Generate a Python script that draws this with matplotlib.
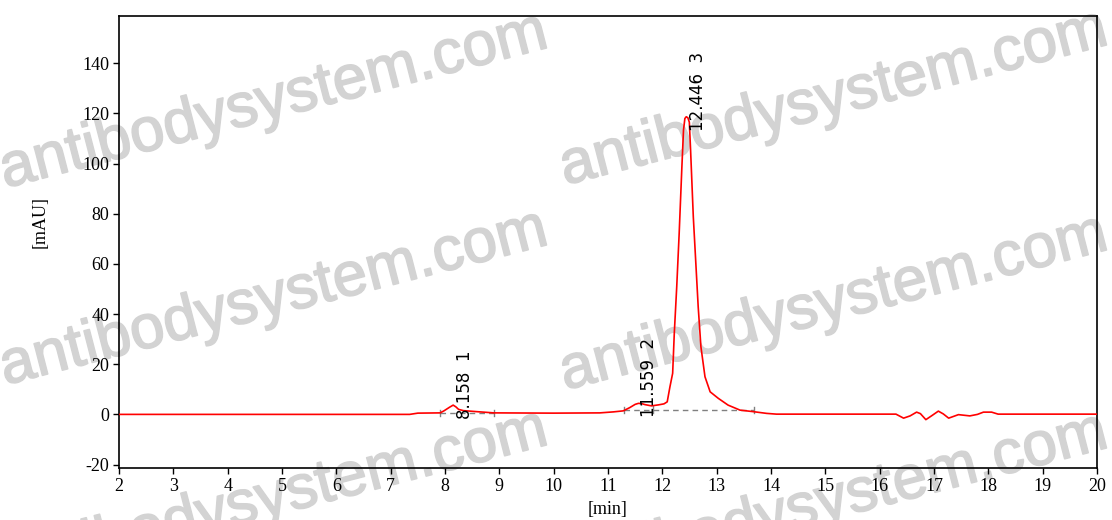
import numpy as np
import matplotlib
matplotlib.use('Agg')
import matplotlib.pyplot as plt
import matplotlib.patheffects as pe

plt.rcParams['axes.unicode_minus'] = False

# chromatogram trace (time in min, signal in mAU)
time_min = [2.00, 7.35, 7.50, 7.91, 7.98, 8.08, 8.15, 8.20, 8.25, 8.34, 8.58, 8.90,
            10.00, 10.85, 11.10, 11.28, 11.40, 11.50, 11.56, 11.62, 11.68, 11.80,
            11.93, 12.03, 12.09, 12.14, 12.19, 12.22, 12.265, 12.31, 12.36, 12.39,
            12.415, 12.44, 12.47, 12.497, 12.52, 12.57, 12.62, 12.66, 12.71, 12.785,
            12.88, 13.03, 13.21, 13.43, 13.67, 13.92, 14.10, 16.30, 16.44, 16.56,
            16.68, 16.75, 16.85, 16.96, 17.08, 17.17, 17.27, 17.45, 17.66, 17.80,
            17.91, 18.06, 18.18, 20.00]
signal_mau = [0.0, 0.0, 0.5, 0.6, 1.4, 2.8, 3.7, 3.0, 2.0, 1.5, 1.1, 0.6,
              0.5, 0.6, 1.0, 1.4, 2.7, 4.0, 4.4, 4.3, 3.9, 3.4,
              3.8, 4.2, 5.0, 11.0, 16.4, 32.3, 50.9, 72.2, 98.8, 113.5,
              118.0, 118.7, 118.3, 116.5, 105.4, 78.8, 58.9, 42.9, 27.0, 15.0,
              9.0, 6.4, 3.7, 1.7, 1.1, 0.4, 0.1, 0.1, -1.5, -0.6,
              0.9, 0.3, -2.1, -0.5, 1.3, 0.2, -1.5, -0.1, -0.6, 0.0,
              0.9, 0.9, 0.1, 0.1]

# integrated peaks
peak_rt = [8.158, 11.559, 12.446]
peak_height = [3.7, 4.4, 118.7]
peak_no = [1, 2, 3]

# integration baselines: (start, end, level)
base_start = [7.91, 11.30]
base_end = [8.90, 13.69]
base_level = [0.6, 1.6]
drop_x = [11.835]
drop_top = [3.4]

W, H = 1112, 520
fig = plt.figure(figsize=(W / 100, H / 100), dpi=100)
ax = fig.add_axes([119 / W, 1 - 468.3 / H, 978 / W, (468.3 - 15.7) / H])
ax.set_facecolor('none')

# watermark behind the axes
wm_pos = [(5, 188), (565, 185), (5, 385), (565, 390), (5, 585), (565, 588)]
for px, py in wm_pos:
    fig.text(px / W, 1 - py / H, 'antibodysystem.com', fontsize=44.5,
             family='Liberation Sans', color='#d3d3d3',
             rotation=14.5, rotation_mode='anchor', ha='left', va='baseline',
             zorder=-1,
             path_effects=[pe.withStroke(linewidth=1.2, foreground='#d3d3d3')])

ax.plot(time_min, signal_mau, color='#ff0000', lw=1.2, zorder=3)

for s, e, lv in zip(base_start, base_end, base_level):
    ax.plot([s, e], [lv, lv], color='#808080', lw=1.0, ls=(0, (4, 3)), zorder=2)
    for xx in (s, e):
        ax.plot([xx, xx], [lv - 1.2, lv + 1.2], color='#808080', lw=1.0, zorder=2)
for xx, top in zip(drop_x, drop_top):
    ax.plot([xx, xx], [base_level[1] - 1.2, top], color='#808080', lw=1.0, zorder=2)

for rt, h, n in zip(peak_rt, peak_height, peak_no):
    ax.annotate('%.3f  %d' % (rt, n), xy=(rt, h), xytext=(11, -14),
                textcoords='offset pixels', rotation=90, ha='center', va='bottom',
                fontsize=12, family='DejaVu Sans', color='black', zorder=4)

ax.set_xlim(2, 20)
ax.set_ylim(-21.5, 159)
ax.set_xticks(np.arange(2, 21, 1))
ax.set_yticks(np.arange(-20, 141, 20))
ax.tick_params(direction='out', length=4, width=1, labelsize=13, pad=3)
for lab in ax.get_xticklabels() + ax.get_yticklabels():
    lab.set_family('Liberation Serif')
for sp in ax.spines.values():
    sp.set_linewidth(1.2)

ax.set_xlabel('[min]', family='Liberation Serif', fontsize=13, labelpad=4)
ax.set_ylabel('[mAU]', family='Liberation Serif', fontsize=13)
ax.yaxis.set_label_coords(-0.0716, 0.544)

fig.savefig('out.png', dpi=100)
